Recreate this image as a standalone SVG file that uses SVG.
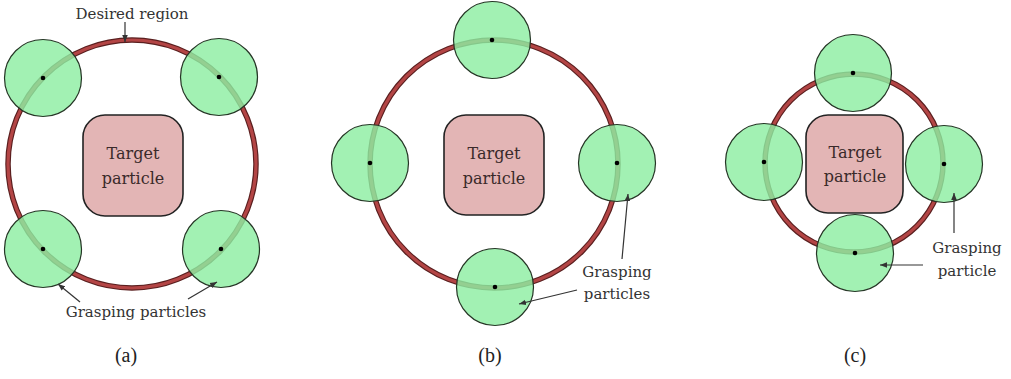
<svg xmlns="http://www.w3.org/2000/svg" width="1011" height="379" viewBox="0 0 1011 379">
<defs>
<marker id="ah" viewBox="0 0 10 10" refX="10" refY="5" markerWidth="7" markerHeight="7" orient="auto" markerUnits="userSpaceOnUse">
<path d="M0,1 L10,5 L0,9 Z" fill="#333"/>
</marker>
</defs>
<style>
.ringo{fill:none;stroke:#5a1f1f;stroke-width:5.5}
.ringi{fill:none;stroke:#b34545;stroke-width:3.2}
.grasp{fill:#8eeea2;fill-opacity:0.82;stroke:#253525;stroke-width:1.2}
.dot{fill:#000}
.target{fill:#e3b5b5;stroke:#222;stroke-width:1.6}
.tt{font-family:"DejaVu Serif",serif;font-size:16px;fill:#3a2a2a;text-anchor:middle}
.lbl{font-family:"DejaVu Serif",serif;font-size:15px;fill:#333;text-anchor:middle}
.cap{font-family:"Liberation Serif",serif;font-size:20px;fill:#222;text-anchor:middle}
.arr{stroke:#333;stroke-width:1.2;fill:none;marker-end:url(#ah)}
</style>
<rect width="1011" height="379" fill="#fff"/>

<!-- Panel (a) -->
<g id="ring-a"><circle class="ringo" cx="132" cy="164" r="124"/><circle class="ringi" cx="132" cy="164" r="124"/></g>
<g id="target-a"><rect class="target" x="83" y="115" width="100" height="101" rx="22"/><text class="tt" x="133" y="159">Target</text><text class="tt" x="133" y="184">particle</text></g>
<g id="grasp-a1"><circle class="grasp" cx="43" cy="78" r="38.5"/><circle class="dot" cx="43" cy="78" r="2.3"/></g>
<g id="grasp-a2"><circle class="grasp" cx="219" cy="77" r="38.5"/><circle class="dot" cx="219" cy="77" r="2.3"/></g>
<g id="grasp-a3"><circle class="grasp" cx="43" cy="249" r="38.5"/><circle class="dot" cx="43" cy="249" r="2.3"/></g>
<g id="grasp-a4"><circle class="grasp" cx="221" cy="249" r="38.5"/><circle class="dot" cx="221" cy="249" r="2.3"/></g>
<g id="label-a"><text class="lbl" x="132" y="19">Desired region</text><text class="lbl" x="136" y="317">Grasping particles</text></g>

<!-- Panel (b) -->
<g id="ring-b"><circle class="ringo" cx="494" cy="164" r="124"/><circle class="ringi" cx="494" cy="164" r="124"/></g>
<g id="target-b"><rect class="target" x="444" y="115" width="100" height="100" rx="22"/><text class="tt" x="494" y="159">Target</text><text class="tt" x="494" y="184">particle</text></g>
<g id="grasp-b1"><circle class="grasp" cx="492" cy="40" r="38.5"/><circle class="dot" cx="492" cy="40" r="2.3"/></g>
<g id="grasp-b2"><circle class="grasp" cx="370" cy="163" r="38.5"/><circle class="dot" cx="370" cy="163" r="2.3"/></g>
<g id="grasp-b3"><circle class="grasp" cx="617" cy="163" r="38.5"/><circle class="dot" cx="617" cy="163" r="2.3"/></g>
<g id="grasp-b4"><circle class="grasp" cx="495" cy="287" r="38.5"/><circle class="dot" cx="495" cy="287" r="2.3"/></g>
<g id="label-b"><text class="lbl" x="617" y="277">Grasping</text><text class="lbl" x="617" y="299">particles</text></g>

<!-- Panel (c) -->
<g id="ring-c"><circle class="ringo" cx="854" cy="163" r="89"/><circle class="ringi" cx="854" cy="163" r="89"/></g>
<g id="target-c"><rect class="target" x="806" y="115" width="97" height="98" rx="22"/><text class="tt" x="855" y="158">Target</text><text class="tt" x="855" y="182">particle</text></g>
<g id="grasp-c1"><circle class="grasp" cx="853" cy="73" r="38.5"/><circle class="dot" cx="853" cy="73" r="2.3"/></g>
<g id="grasp-c2"><circle class="grasp" cx="764" cy="162" r="38.5"/><circle class="dot" cx="764" cy="162" r="2.3"/></g>
<g id="grasp-c3"><circle class="grasp" cx="944" cy="164" r="38.5"/><circle class="dot" cx="944" cy="164" r="2.3"/></g>
<g id="grasp-c4"><circle class="grasp" cx="855" cy="253" r="38.5"/><circle class="dot" cx="855" cy="253" r="2.3"/></g>
<g id="label-c"><text class="lbl" x="967" y="253">Grasping</text><text class="lbl" x="967" y="276">particle</text></g>

<g id="connectors">
<line class="arr" x1="125" y1="22" x2="125" y2="42"/>
<line class="arr" x1="80" y1="302" x2="58" y2="284"/>
<line class="arr" x1="188" y1="299" x2="217" y2="282"/>
<line class="arr" x1="622" y1="259" x2="628" y2="194"/>
<line class="arr" x1="577" y1="290" x2="519" y2="304"/>
<line class="arr" x1="954" y1="233" x2="954" y2="193"/>
<line class="arr" x1="923" y1="265" x2="880" y2="265"/>
</g>

<g id="captions">
<text class="cap" x="126" y="362">(a)</text>
<text class="cap" x="490" y="362">(b)</text>
<text class="cap" x="855" y="362">(c)</text>
</g>
</svg>
